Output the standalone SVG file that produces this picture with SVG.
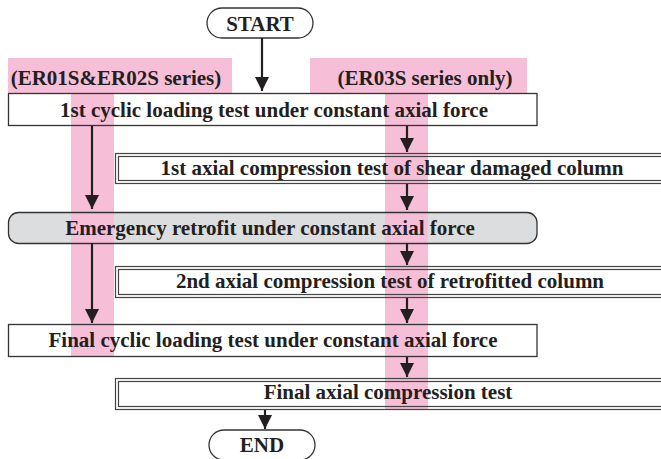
<svg xmlns="http://www.w3.org/2000/svg" width="661" height="459" viewBox="0 0 661 459">
<style>
text{font-family:"Liberation Serif","Times New Roman",serif;font-weight:bold;font-size:21px;fill:#231f20;text-anchor:middle}
.pink{fill:#f7bed8}
.box{fill:none;stroke:#333;stroke-width:1.3}
.dbl{fill:none;stroke:#444;stroke-width:1.2}
.term{fill:#fff;stroke:#333;stroke-width:1.3}
.conn{stroke:#231f20;stroke-width:2.2;fill:none;marker-end:url(#ah)}
</style>
<defs>
<marker id="ah" markerUnits="userSpaceOnUse" markerWidth="14" markerHeight="14" refX="14" refY="7" orient="auto">
<path d="M0,0 L14,7 L0,14 z" fill="#231f20"/>
</marker>
</defs>
<rect width="661" height="459" fill="#fff"/>
<g id="fills">
<rect x="8" y="212" width="529" height="31" rx="10" fill="#dcdddf"/>
</g>
<g id="bands">
<rect class="pink" x="8" y="58" width="224" height="35"/>
<rect class="pink" x="310" y="58" width="217" height="35"/>
<rect class="pink" x="71" y="93" width="43" height="264"/>
<rect class="pink" x="385" y="93" width="43" height="317"/>
</g>
<g id="label-left"><text x="116" y="85">(ER01S&amp;ER02S series)</text></g>
<g id="label-right"><text x="425" y="85">(ER03S series only)</text></g>
<g id="start">
<rect class="term" x="207" y="8" width="106" height="30" rx="15"/>
<text x="260" y="31">START</text>
</g>
<g id="cyclic1">
<rect class="box" x="8.5" y="93.5" width="528.5" height="32"/>
<text x="274" y="117">1st cyclic loading test under constant axial force</text>
</g>
<g id="axial1">
<rect class="dbl" x="115.5" y="153.5" width="600" height="30"/>
<rect class="dbl" x="118.5" y="156.5" width="600" height="24"/>
<text x="392" y="175">1st axial compression test of shear damaged column</text>
</g>
<g id="retrofit">
<rect class="box" x="8.5" y="212.5" width="528.5" height="31" rx="10"/>
<text x="270" y="235">Emergency retrofit under constant axial force</text>
</g>
<g id="axial2">
<rect class="dbl" x="115.5" y="266.5" width="600" height="31"/>
<rect class="dbl" x="118.5" y="269.5" width="600" height="25"/>
<text x="390" y="288">2nd axial compression test of retrofitted column</text>
</g>
<g id="cyclic2">
<rect class="box" x="8.5" y="324.5" width="528.5" height="32"/>
<text x="273" y="347">Final cyclic loading test under constant axial force</text>
</g>
<g id="axial3">
<rect class="dbl" x="115.5" y="378.5" width="600" height="31"/>
<rect class="dbl" x="118.5" y="381.5" width="600" height="25"/>
<text x="388" y="399">Final axial compression test</text>
</g>
<g id="end">
<rect class="term" x="209" y="430" width="106" height="30" rx="15"/>
<text x="262" y="452">END</text>
</g>
<g id="connectors">
<line class="conn" x1="262" y1="38" x2="262" y2="91"/>
<line class="conn" x1="92" y1="126" x2="92" y2="209"/>
<line class="conn" x1="92" y1="243" x2="92" y2="323"/>
<line class="conn" x1="407" y1="126" x2="407" y2="152"/>
<line class="conn" x1="407" y1="184" x2="407" y2="210"/>
<line class="conn" x1="407" y1="243" x2="407" y2="265"/>
<line class="conn" x1="407" y1="298" x2="407" y2="323"/>
<line class="conn" x1="407" y1="357" x2="407" y2="377"/>
<line class="conn" x1="265" y1="410" x2="265" y2="429"/>
</g>
</svg>
